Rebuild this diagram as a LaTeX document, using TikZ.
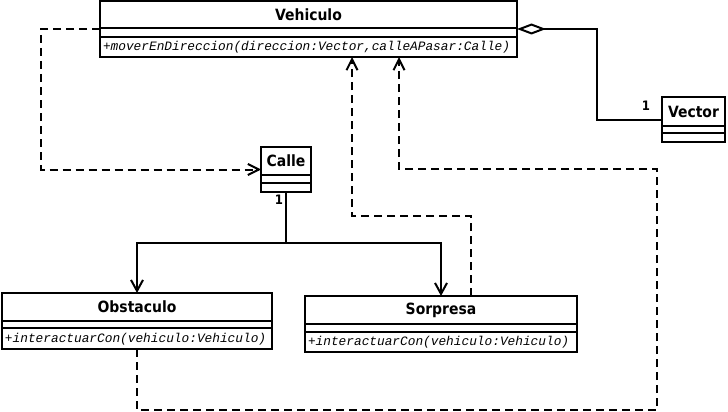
\documentclass[tikz,border=0pt]{standalone}
\usepackage{fontspec}
\setmainfont{DejaVu Sans}
\newfontfamily\monoit{Liberation Mono}
\newfontfamily\ttlfont{DejaVu Sans Condensed}
\usetikzlibrary{arrows.meta}
\begin{document}
\begin{tikzpicture}[x=1pt,y=-1pt,line width=2pt,
  box/.style={draw,anchor=north west,inner sep=0pt,outer sep=0pt},
  ttl/.style={font=\fontsize{15.5}{17}\selectfont\ttlfont\bfseries,inner sep=0pt},
  mth/.style={font=\fontsize{12.8}{14}\selectfont\monoit\itshape,inner sep=0pt,anchor=west},
  mult/.style={font=\fontsize{13}{14}\selectfont\ttlfont\bfseries,inner sep=0pt},
  dep/.style={dash pattern=on 8pt off 5pt,-{Straight Barb[length=11pt,width=11pt]}},
  assoc/.style={-{Straight Barb[length=11pt,width=12pt]}},
  agg/.style={{Diamond[open,length=29pt,width=11pt]}-}]
\useasboundingbox (0,0) rectangle (728,412);
% Vehiculo
\node[box,minimum width=417pt,minimum height=56pt] (veh) at (100,1) {};
\draw (100,28) -- (517,28) (100,37) -- (517,37);
\node[ttl] (vehT) at (308.5,15) {Vehiculo};
\node[mth] (vehM) at (102,47) {+moverEnDireccion(direccion:Vector,calleAPasar:Calle)};
% Vector
\node[box,minimum width=63pt,minimum height=45pt] (vec) at (662,97) {};
\draw (662,126) -- (725,126) (662,133) -- (725,133);
\node[ttl] (vecT) at (693.5,112) {Vector};
% Calle
\node[box,minimum width=50pt,minimum height=45pt] (cal) at (261,147) {};
\draw (261,175) -- (311,175) (261,183) -- (311,183);
\node[ttl] (calT) at (286,161) {Calle};
% Obstaculo
\node[box,minimum width=270pt,minimum height=56pt] (obs) at (2,293) {};
\draw (2,321) -- (272,321) (2,328) -- (272,328);
\node[ttl] (obsT) at (137,307) {Obstaculo};
\node[mth] (obsM) at (4,339) {+interactuarCon(vehiculo:Vehiculo)};
% Sorpresa
\node[box,minimum width=272pt,minimum height=56pt] (sor) at (305,296) {};
\draw (305,324) -- (577,324) (305,332) -- (577,332);
\node[ttl] (sorT) at (441,310) {Sorpresa};
\node[mth] (sorM) at (307,342) {+interactuarCon(vehiculo:Vehiculo)};
% connectors
\draw[agg] (veh.east) -- ++(80,0) |- (vec.west);
\node[mult] (m1) at (646,106) {1};
\draw[dep] (veh.west) -- ++(-59,0) |- (cal.west);
\coordinate (j) at (286,243);
\draw (cal.south) -- (j);
\draw[assoc] (j) -| (obs.north);
\draw[assoc] (j) -| (sor.north);
\node[mult] (m2) at (279,200) {1};
\draw[dep] ([xshift=30pt]sor.north) -- ++(0,-80) -| ([xshift=43.5pt]veh.south);
\coordinate (c1) at (657,410);
\coordinate (c2) at (657,169);
\draw[dep] (obs.south) |- (c1) -- (c2) -| ([xshift=90.5pt]veh.south);
\end{tikzpicture}
\end{document}
